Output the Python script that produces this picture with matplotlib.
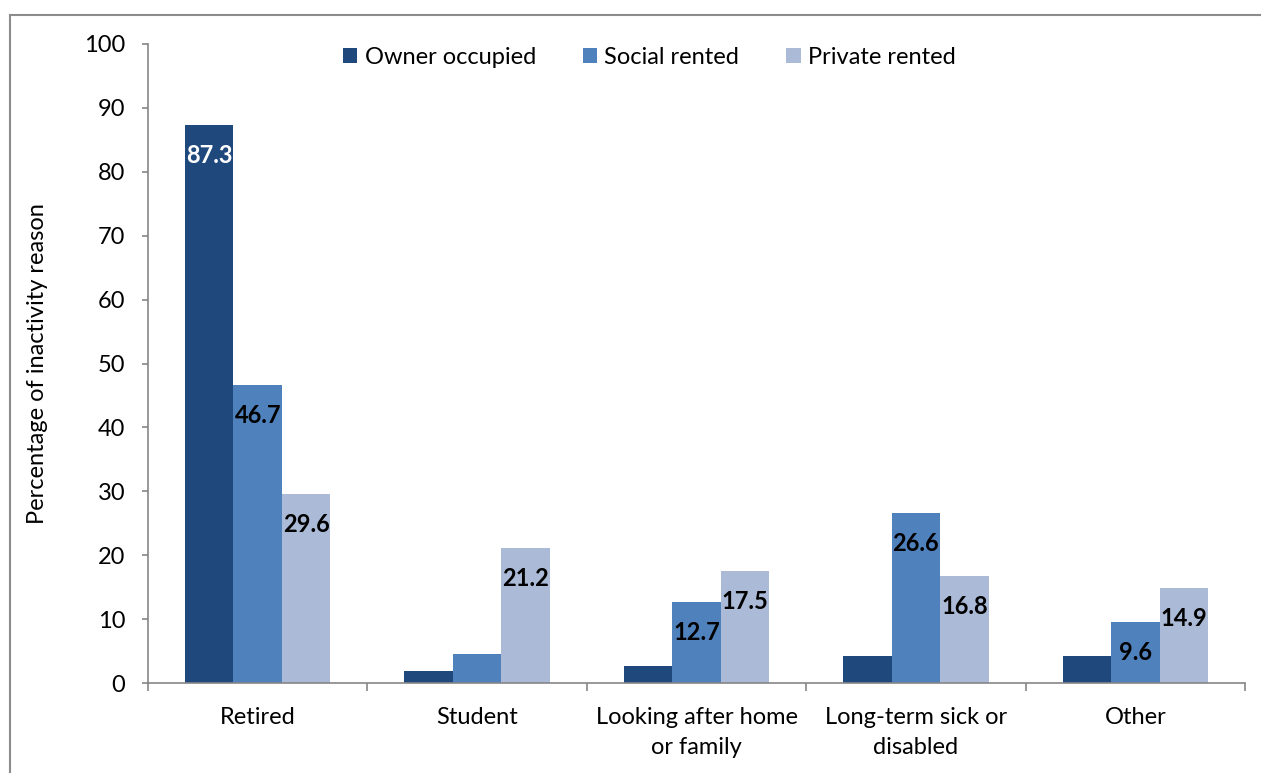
import matplotlib
matplotlib.use('Agg')
import matplotlib.pyplot as plt
from matplotlib.lines import Line2D
import numpy as np

plt.rcParams['font.family'] = ['Lato', 'DejaVu Sans']

categories = ['Retired', 'Student', 'Looking after home\nor family',
              'Long-term sick or\ndisabled', 'Other']
series_names = ['Owner occupied', 'Social rented', 'Private rented']
owner = [87.3, 1.8, 2.7, 4.2, 4.3]
social = [46.7, 4.5, 12.7, 26.6, 9.6]
private = [29.6, 21.2, 17.5, 16.8, 14.9]
# labels shown in the source chart (None = no label)
owner_labels = ['87.3', None, None, None, None]
social_labels = ['46.7', None, '12.7', '26.6', '9.6']
private_labels = ['29.6', '21.2', '17.5', '16.8', '14.9']

colors = ['#1F497D', '#4F81BD', '#AABAD7']
label_colors = ['white', 'black', 'black']
fs = 17

fig = plt.figure(figsize=(12.61, 7.73), dpi=100)
ax = fig.add_axes([148 / 1261, 1 - 683 / 773, (1245 - 148) / 1261, (683 - 44) / 773])

# outer chart frame
fig.add_artist(Line2D([10 / 1261, 10 / 1261], [0, 1 - 15 / 773], transform=fig.transFigure,
                      color='#8C8C8C', lw=1.5))
fig.add_artist(Line2D([10 / 1261, 1], [1 - 15 / 773, 1 - 15 / 773], transform=fig.transFigure,
                      color='#8C8C8C', lw=1.5))

x = np.arange(len(categories))
w = 0.221
all_vals = [owner, social, private]
all_labels = [owner_labels, social_labels, private_labels]
for i, (vals, labs) in enumerate(zip(all_vals, all_labels)):
    pos = x + (i - 1) * w
    ax.bar(pos, vals, width=w, color=colors[i], label=series_names[i], zorder=2)
    for p, v, lab in zip(pos, vals, labs):
        if lab is None:
            continue
        ax.annotate(lab, (p, v), xytext=(0, -22), textcoords='offset points',
                    ha='center', va='center', fontsize=fs, fontweight='bold',
                    color=label_colors[i])

ax.set_xlim(-0.5, len(categories) - 0.5)
ax.set_ylim(0, 100)
ax.set_yticks(range(0, 101, 10))
ax.set_xticks(x)
ax.set_xticklabels(categories, linespacing=1.55)
ax.set_xticks(np.arange(-0.5, len(categories), 1), minor=True)
ax.tick_params(axis='x', which='major', length=0, pad=17, labelsize=fs)
ax.tick_params(axis='x', which='minor', length=6, color='#868686', width=1.2)
ax.tick_params(axis='y', length=4.5, color='#868686', width=1.2, labelsize=fs, pad=12)

for s in ['top', 'right']:
    ax.spines[s].set_visible(False)
for s in ['left', 'bottom']:
    ax.spines[s].set_color('#868686')
    ax.spines[s].set_linewidth(1.2)

ax.set_ylabel('Percentage of inactivity reason', fontsize=fs)
ax.yaxis.set_label_coords(-0.091, 0.5)

ax.legend(loc='center', bbox_to_anchor=(0.457, 0.979), ncol=3, frameon=False,
          fontsize=fs, handlelength=0.6, handleheight=0.6, handletextpad=0.3,
          columnspacing=2.0)

fig.savefig('out.png', dpi=100)
